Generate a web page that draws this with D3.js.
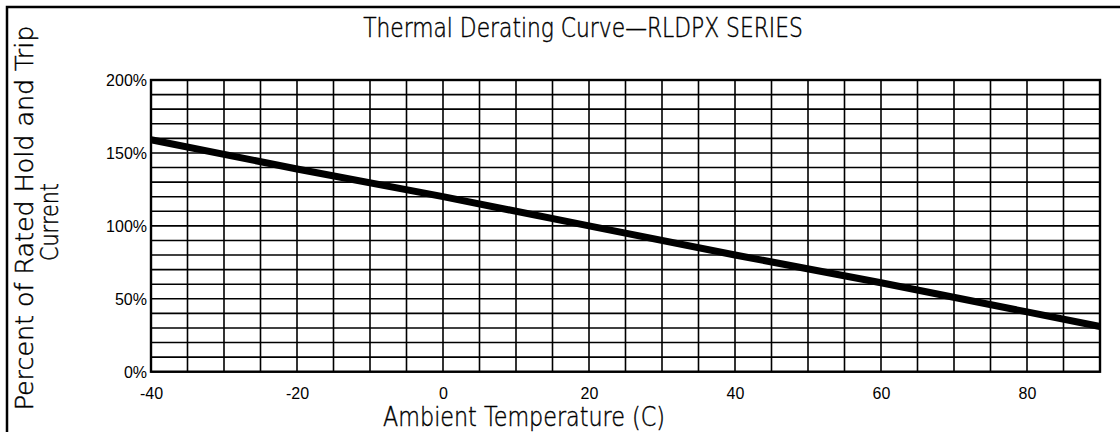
<!DOCTYPE html>
<html><head><meta charset="utf-8">
<script src="https://cdn.jsdelivr.net/npm/d3@7"></script>
<style>
html,body{margin:0;padding:0;background:#fff;}
.cad{font-family:"DejaVu Sans",sans-serif;font-weight:200;fill:#000;stroke:#000;stroke-width:0.45px;}
.tick{font-family:"Liberation Sans",Arial,sans-serif;font-size:16px;fill:#000;}
</style></head>
<body>
<svg id="c" width="1120" height="432"></svg>
<script>
// Data
const tempPoints = [-40, -20, 0, 20, 40, 60, 80, 90];
const percentValues = [159, 139, 120, 100, 80, 61, 41, 31];
const xTickValues = [-40, -20, 0, 20, 40, 60, 80];
const yTickValues = [0, 50, 100, 150, 200];
const yTickLabels = ["0%", "50%", "100%", "150%", "200%"];
const titleText = "Thermal Derating Curve\u2014RLDPX SERIES";
const xTitle = "Ambient Temperature (C)";
const yTitle1 = "Percent of Rated Hold and Trip";
const yTitle2 = "Current";

const svg = d3.select("#c");
const W = 1120, H = 432;
const m = {left:151, top:80, right:1100, bottom:371.7};
const x = d3.scaleLinear().domain([-40, 90]).range([m.left, m.right]);
const y = d3.scaleLinear().domain([0, 200]).range([m.bottom, m.top]);

// outer frame (left & top)
svg.append("path").attr("d", `M7,${H} L7,7 L${W},7`).attr("fill","none").attr("stroke","#000").attr("stroke-width",2.5);

// grid
const g = svg.append("g");
g.selectAll("line.v").data(d3.range(-40, 91, 5)).join("line")
  .attr("x1", d=>x(d)).attr("x2", d=>x(d)).attr("y1", y(0)).attr("y2", y(200))
  .attr("stroke","#000").attr("stroke-width",1.6);
g.selectAll("line.h").data(d3.range(0, 201, 10)).join("line")
  .attr("y1", d=>y(d)).attr("y2", d=>y(d)).attr("x1", x(-40)).attr("x2", x(90))
  .attr("stroke","#000").attr("stroke-width",1.6);
g.append("rect").attr("x", x(-40)).attr("y", y(200)).attr("width", x(90)-x(-40)).attr("height", y(0)-y(200))
  .attr("fill","none").attr("stroke","#000").attr("stroke-width",2.4);

// curve
const line = d3.line().x((d,i)=>x(tempPoints[i])).y(d=>y(d));
svg.append("path").datum(percentValues).attr("d", line).attr("fill","none").attr("stroke","#000").attr("stroke-width",7);

// axes (labels only)
const xAxis = d3.axisBottom(x).tickValues(xTickValues).tickSize(0).tickPadding(0).tickFormat(d=>String(d));
const xa = svg.append("g").attr("transform", `translate(0,${m.bottom})`).call(xAxis);
xa.select(".domain").remove();
xa.selectAll("text").attr("class","tick").attr("dy",null).attr("y", 27);

const yAxis = d3.axisLeft(y).tickValues(yTickValues).tickSize(0).tickPadding(4).tickFormat((d,i)=>yTickLabels[i]);
const ya = svg.append("g").attr("transform", `translate(${m.left},0)`).call(yAxis);
ya.select(".domain").remove();
ya.selectAll("text").attr("class","tick").attr("dy","0.36em");

// CAD-style titles: scale horizontally to the target width
function cadText(txt, size, cx, baseline, width, rotate){
  const grp = svg.append("g");
  const t = grp.append("text").attr("class","cad").attr("font-size", size).attr("text-anchor","middle").text(txt);
  const nat = t.node().getComputedTextLength();
  const sx = width / nat;
  if (rotate) grp.attr("transform", `translate(${baseline},${cx}) rotate(-90) scale(${sx},1)`);
  else grp.attr("transform", `translate(${cx},${baseline}) scale(${sx},1)`);
}
cadText(titleText, 26, 583, 37, 440, false);
cadText(xTitle, 27, 524, 426, 282, false);
cadText(yTitle1, 25, 218, 33, 385, true);
cadText(yTitle2, 25, 222, 58, 78, true);
</script>
</body></html>
